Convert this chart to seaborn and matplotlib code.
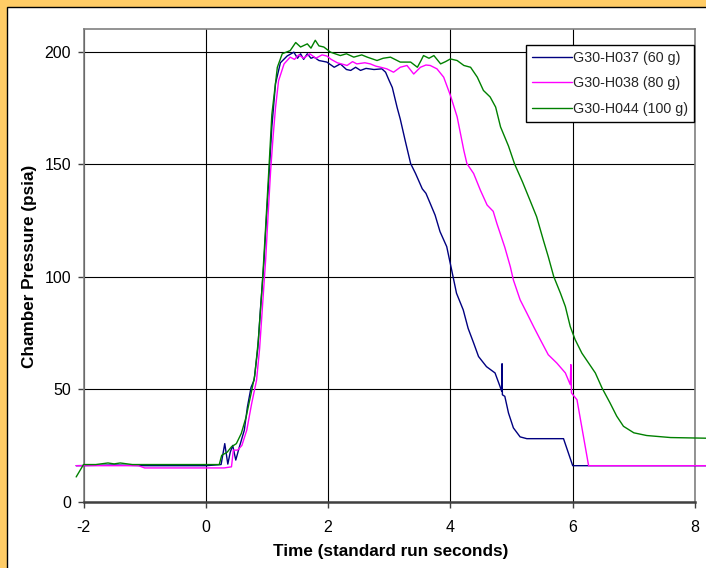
import numpy as np
import pandas as pd
import matplotlib
matplotlib.use("Agg")
import matplotlib.pyplot as plt
from matplotlib.patches import Rectangle
import seaborn as sns

# ---------------- data ----------------
series_names = ["G30-H037 (60 g)", "G30-H038 (80 g)", "G30-H044 (100 g)"]
series_colors = ["#000080", "#FF00FF", "#008000"]

h037_t = [-2.12, -1.5, -1.0, -0.5, 0.0, 0.25, 0.31, 0.36, 0.40, 0.44, 0.49, 0.55, 0.63, 0.68,
          0.74, 0.79, 0.85, 0.90, 0.95, 0.98, 1.03, 1.08, 1.14, 1.22, 1.33, 1.44, 1.50, 1.55,
          1.60, 1.66, 1.72, 1.77, 1.85, 1.98, 2.10, 2.20, 2.30, 2.37, 2.45, 2.53, 2.62, 2.75,
          2.88, 2.94, 3.00, 3.05, 3.13, 3.18, 3.26, 3.35, 3.43, 3.54, 3.60, 3.67, 3.75, 3.83,
          3.94, 4.02, 4.10, 4.21, 4.29, 4.38, 4.46, 4.59, 4.73, 4.81, 4.84, 4.845, 4.85, 4.89,
          4.95, 5.03, 5.14, 5.25, 5.41, 5.85, 6.0, 8.2]
h037_p = [16, 16.3, 16, 16, 16, 16.5, 25.8, 16.7, 22, 25, 18.5, 24.4, 31.8, 42,
          50.8, 54, 68, 88, 106, 120.7, 143, 166.5, 185.7, 195, 198, 199.7, 197, 199,
          196.5, 199, 197, 197.5, 196, 195.3, 193, 194.5, 192, 191.6, 193, 191.6, 192.5, 192,
          192.3, 190.8, 187, 184, 175, 170, 160.5, 150.2, 145.8, 139, 137, 132.5, 127.3, 120,
          113.3, 103, 92.6, 85.2, 77, 70.5, 64.5, 60, 57.2, 51.3, 49, 61.3, 47.5, 46.8,
          39.4, 32.8, 28.8, 28, 28, 28, 16, 16]

h038_t = [-2.12, -1.5, -1.1, -1.0, -0.5, 0.0, 0.3, 0.42, 0.45, 0.52, 0.59, 0.67, 0.75, 0.83,
          0.88, 0.93, 0.98, 1.02, 1.06, 1.10, 1.14, 1.19, 1.28, 1.38, 1.45, 1.52, 1.60, 1.70,
          1.80, 1.90, 1.98, 2.05, 2.15, 2.31, 2.40, 2.47, 2.60, 2.69, 2.78, 2.86, 2.96, 3.07,
          3.18, 3.29, 3.40, 3.51, 3.60, 3.67, 3.78, 3.89, 4.00, 4.11, 4.22, 4.27, 4.38, 4.49,
          4.60, 4.70, 4.76, 4.89, 4.98, 5.03, 5.14, 5.25, 5.36, 5.47, 5.60, 5.74, 5.88, 5.96,
          5.97, 5.98, 6.07, 6.26, 8.2]
h038_p = [16, 16, 16, 15, 15, 15, 15, 15.5, 22.9, 22.9, 25, 31.8, 43.6, 54,
          68, 88, 108, 128, 147, 162, 175, 187, 194.5, 197.5, 196.5, 198.5, 197, 199,
          197, 198.5, 198, 196.5, 195, 193.8, 195.5, 194.5, 195, 194.5, 193.5, 193, 192.3, 190.8,
          193, 193.8, 190, 193, 194, 193.8, 192.3, 188.6, 180.5, 171, 156, 150.2, 145.8, 138.4,
          131.8, 129, 123.6, 113, 104.4, 98.5, 89.7, 83.8, 77.8, 72, 65.3, 61.6, 57.2, 52,
          60.9, 48.3, 45.3, 16, 16]

h044_t = [-2.12, -2.0, -1.8, -1.6, -1.5, -1.4, -1.2, -1.1, -0.5, 0.0, 0.22, 0.26, 0.35, 0.42,
          0.50, 0.58, 0.66, 0.74, 0.80, 0.86, 0.92, 0.97, 1.03, 1.08, 1.17, 1.25, 1.38, 1.47,
          1.55, 1.66, 1.72, 1.79, 1.85, 1.93, 2.04, 2.20, 2.30, 2.42, 2.55, 2.64, 2.80, 2.90,
          3.02, 3.18, 3.35, 3.46, 3.52, 3.56, 3.65, 3.73, 3.84, 3.92, 4.00, 4.11, 4.22, 4.33,
          4.44, 4.54, 4.65, 4.74, 4.82, 4.95, 5.05, 5.18, 5.30, 5.41, 5.52, 5.60, 5.69, 5.80,
          5.88, 5.96, 6.04, 6.15, 6.26, 6.37, 6.48, 6.61, 6.72, 6.83, 7.00, 7.21, 7.60, 8.2]
h044_p = [11, 16.5, 16.5, 17.2, 16.8, 17.2, 16.5, 16.5, 16.5, 16.5, 16.5, 20.6, 22, 24.4,
          25.8, 30.3, 37.7, 48, 56, 72, 95, 118, 147, 172, 193, 199, 200.4, 204,
          202, 203.4, 201.5, 205, 202.5, 202, 199.7, 198.2, 199, 197.5, 198.5, 197.5, 196, 197,
          197.5, 195.3, 195.3, 193, 196, 198.2, 197, 198.2, 194.5, 195.5, 196.7, 196, 193.8, 193,
          188.6, 182.7, 179.8, 175.3, 166.5, 158, 150, 142, 134, 126.6, 116.2, 108.9, 100, 92.6,
          86.7, 77.8, 72, 66, 61.6, 57.2, 50.5, 43.9, 38, 33.5, 30.6, 29.4, 28.5, 28.2]

x_ticks = [-2, 0, 2, 4, 6, 8]
y_ticks = [0, 50, 100, 150, 200]

# ---------------- build long table ----------------
frames = []
for name, t, p in zip(series_names, [h037_t, h038_t, h044_t], [h037_p, h038_p, h044_p]):
    frames.append(pd.DataFrame({"t": t, "p": p, "series": name}))
df = pd.concat(frames, ignore_index=True)

# ---------------- style ----------------
sns.set_theme(style="white")
plt.rcParams["font.family"] = ["Liberation Sans", "DejaVu Sans"]

W, H = 706, 568
fig = plt.figure(figsize=(W / 100, H / 100), dpi=100, facecolor="#FFCC66")
# white chart area with thin black border (extends past right/bottom edge)
bg = Rectangle((7 / W, -0.05), 1.2, 1 - 7 / H + 0.05,
               transform=fig.transFigure, facecolor="white",
               edgecolor="black", linewidth=1.0, zorder=-10)
fig.patches.append(bg)

left, right, bottom, top = 83.5, 695, 501.7, 29
ax = fig.add_axes([left / W, 1 - bottom / H, (right - left) / W, (bottom - top) / H])
ax.set_zorder(5)
ax.set_facecolor("white")

sns.lineplot(data=df, x="t", y="p", hue="series", hue_order=series_names,
             palette=dict(zip(series_names, series_colors)), sort=False,
             estimator=None, units="series", linewidth=1.0, ax=ax, zorder=3)
for ln in ax.lines:
    ln.set_clip_on(False)

ax.set_xlim(-2, 8)
ax.set_ylim(0, 210)
ax.set_xticks(x_ticks)
ax.set_yticks(y_ticks)
ax.set_xticklabels([str(v) for v in x_ticks])
ax.set_yticklabels([str(v) for v in y_ticks])

ax.grid(True, color="black", linewidth=0.8)
ax.set_axisbelow(True)
for s in ["top", "right", "left"]:
    ax.spines[s].set_color("#808080")
    ax.spines[s].set_linewidth(1.2)
ax.spines["bottom"].set_color("#404040")
ax.spines["bottom"].set_linewidth(1.8)

ax.tick_params(axis="both", which="major", direction="out", length=4, width=1,
               color="#404040", labelsize=11.5, labelcolor="black")
ax.tick_params(axis="x", pad=9)
ax.tick_params(axis="y", pad=5)
ax.xaxis.set_ticks_position("bottom")
ax.yaxis.set_ticks_position("left")

ax.set_xlabel("Time (standard run seconds)", fontsize=12.3, fontweight="bold", color="black")
ax.set_ylabel("Chamber Pressure (psia)", fontsize=12.3, fontweight="bold", color="black")
ax.xaxis.set_label_coords((391 - left) / (right - left), (bottom - 551.5) / (bottom - top))
ax.xaxis.label.set_va("center")
ax.yaxis.set_label_coords((30 - left) / (right - left), (bottom - 266.5) / (bottom - top))
ax.yaxis.label.set_va("center")

handles, labels = ax.get_legend_handles_labels()
leg = ax.legend(handles, labels, loc="upper right",
                bbox_to_anchor=(694 / W, 1 - 45 / H), bbox_transform=fig.transFigure,
                borderaxespad=0, frameon=True, fancybox=False, shadow=False,
                fontsize=10.3, handlelength=2.8, handletextpad=0.1,
                labelspacing=0.82, borderpad=0.4)
leg.get_frame().set_edgecolor("black")
leg.get_frame().set_linewidth(1.0)
leg.get_frame().set_alpha(1)
leg.set_zorder(10)

fig.savefig("out.png", dpi=100, facecolor=fig.get_facecolor())
